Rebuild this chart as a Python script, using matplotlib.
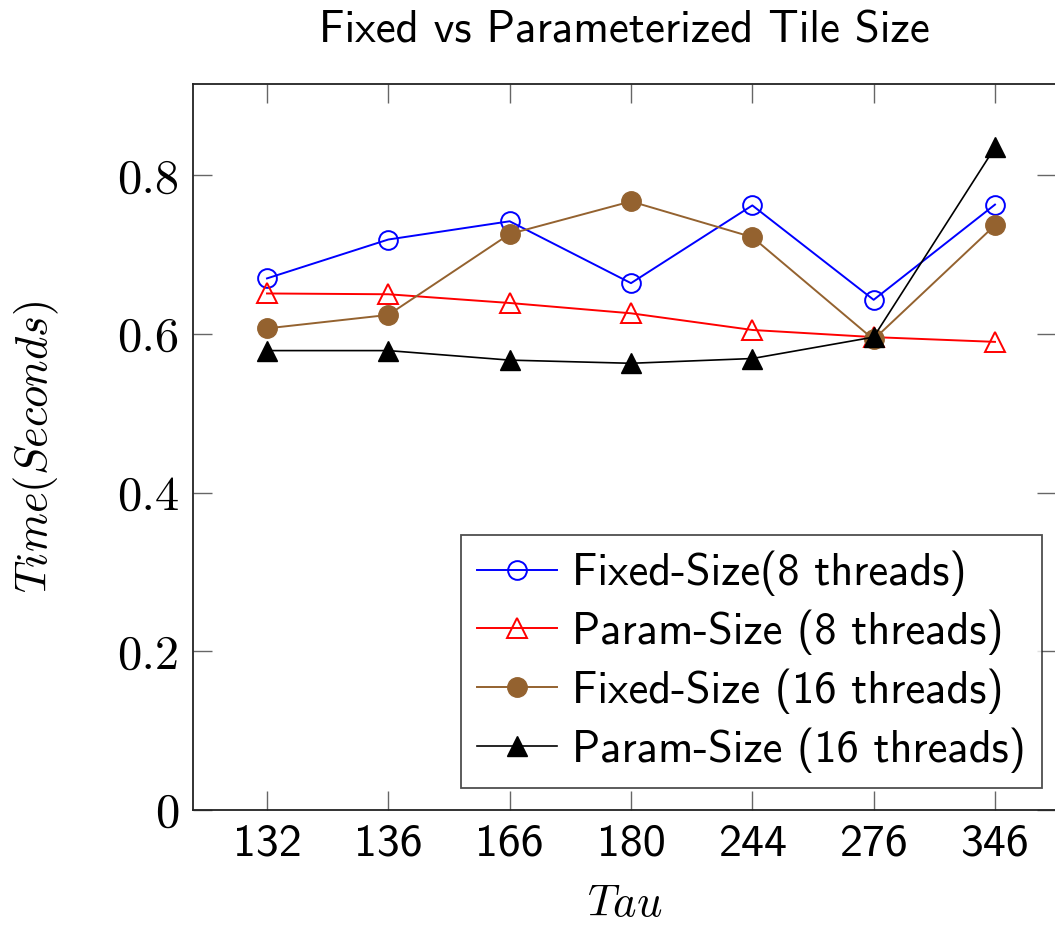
import matplotlib
matplotlib.use("Agg")
import matplotlib.pyplot as plt
import numpy as np

# ---------------- DATA ----------------

tau_labels = ["132", "136", "166", "180", "244", "276", "346"]

fixed_8 = [0.670, 0.719, 0.742, 0.664, 0.762, 0.643, 0.763]
param_8 = [0.651, 0.650, 0.639, 0.626, 0.605, 0.596, 0.590]
fixed_16 = [0.607, 0.624, 0.726, 0.767, 0.722, 0.593, 0.737]
param_16 = [0.579, 0.579, 0.567, 0.563, 0.569, 0.596, 0.835]

y_ticks = [0, 0.2, 0.4, 0.6, 0.8]
y_tick_labels = ["0", "0.2", "0.4", "0.6", "0.8"]

# ---------------- STYLE ----------------

plt.rcParams["mathtext.fontset"] = "cm"
sans = "cmss10"
serif = "cmr10"

brown = "#94622f"

# ---------------- PLOT ----------------

W, H = 1055, 926
fig = plt.figure(figsize=(W / 100, H / 100), dpi=100)

ax = fig.add_axes([
    193 / W,
    (H - 810) / H,
    (1056 - 193) / W,
    (810 - 84) / H
])

x = np.arange(len(tau_labels))

ax.plot(
    x, fixed_8,
    color="blue", lw=1.4,
    marker="o", ms=13.5, mfc="none", mec="blue", mew=1.4,
    label="Fixed-Size(8 threads)"
)

ax.plot(
    x, param_8,
    color="red", lw=1.4,
    marker="^", ms=15, mfc="none", mec="red", mew=1.4,
    label="Param-Size (8 threads)"
)

ax.plot(
    x, fixed_16,
    color=brown, lw=1.4,
    marker="o", ms=14, mfc=brown, mec=brown,
    label="Fixed-Size (16 threads)"
)

ax.plot(
    x, param_16,
    color="black", lw=1.2,
    marker="^", ms=15, mfc="black", mec="black",
    label="Param-Size (16 threads)"
)

ax.set_xlim(-0.61, (1056 - 267) / 121.33)
ax.set_ylim(0, 0.915)

ax.set_xticks(x)
ax.set_xticklabels(tau_labels, fontfamily=sans, fontsize=33)
ax.set_yticks(y_ticks)
ax.set_yticklabels(y_tick_labels, fontfamily=serif, fontsize=35)

ax.tick_params(
    direction="in", length=14, width=1.0, color="#666666",
    top=True, right=True, pad=10
)

for s in ax.spines.values():
    s.set_linewidth(1.3)
    s.set_color("#222222")

ax.set_xlabel("$Tau$", fontsize=32, labelpad=12)
ax.set_ylabel("$Time(Seconds)$", fontsize=32, labelpad=40)
ax.set_title(
    "Fixed vs Parameterized Tile Size",
    fontfamily=sans, fontsize=32.3, pad=30
)

leg = ax.legend(
    loc="upper left",
    bbox_to_anchor=(461 / W, (H - 535) / H),
    bbox_transform=fig.transFigure,
    prop={"family": sans, "size": 32},
    frameon=True, fancybox=False,
    edgecolor="#222222",
    handlelength=1.8, handletextpad=0.35,
    labelspacing=0.3, borderpad=0.35,
    borderaxespad=0
)
leg.get_frame().set_linewidth(1.3)

plt.savefig("out.png", dpi=100)
